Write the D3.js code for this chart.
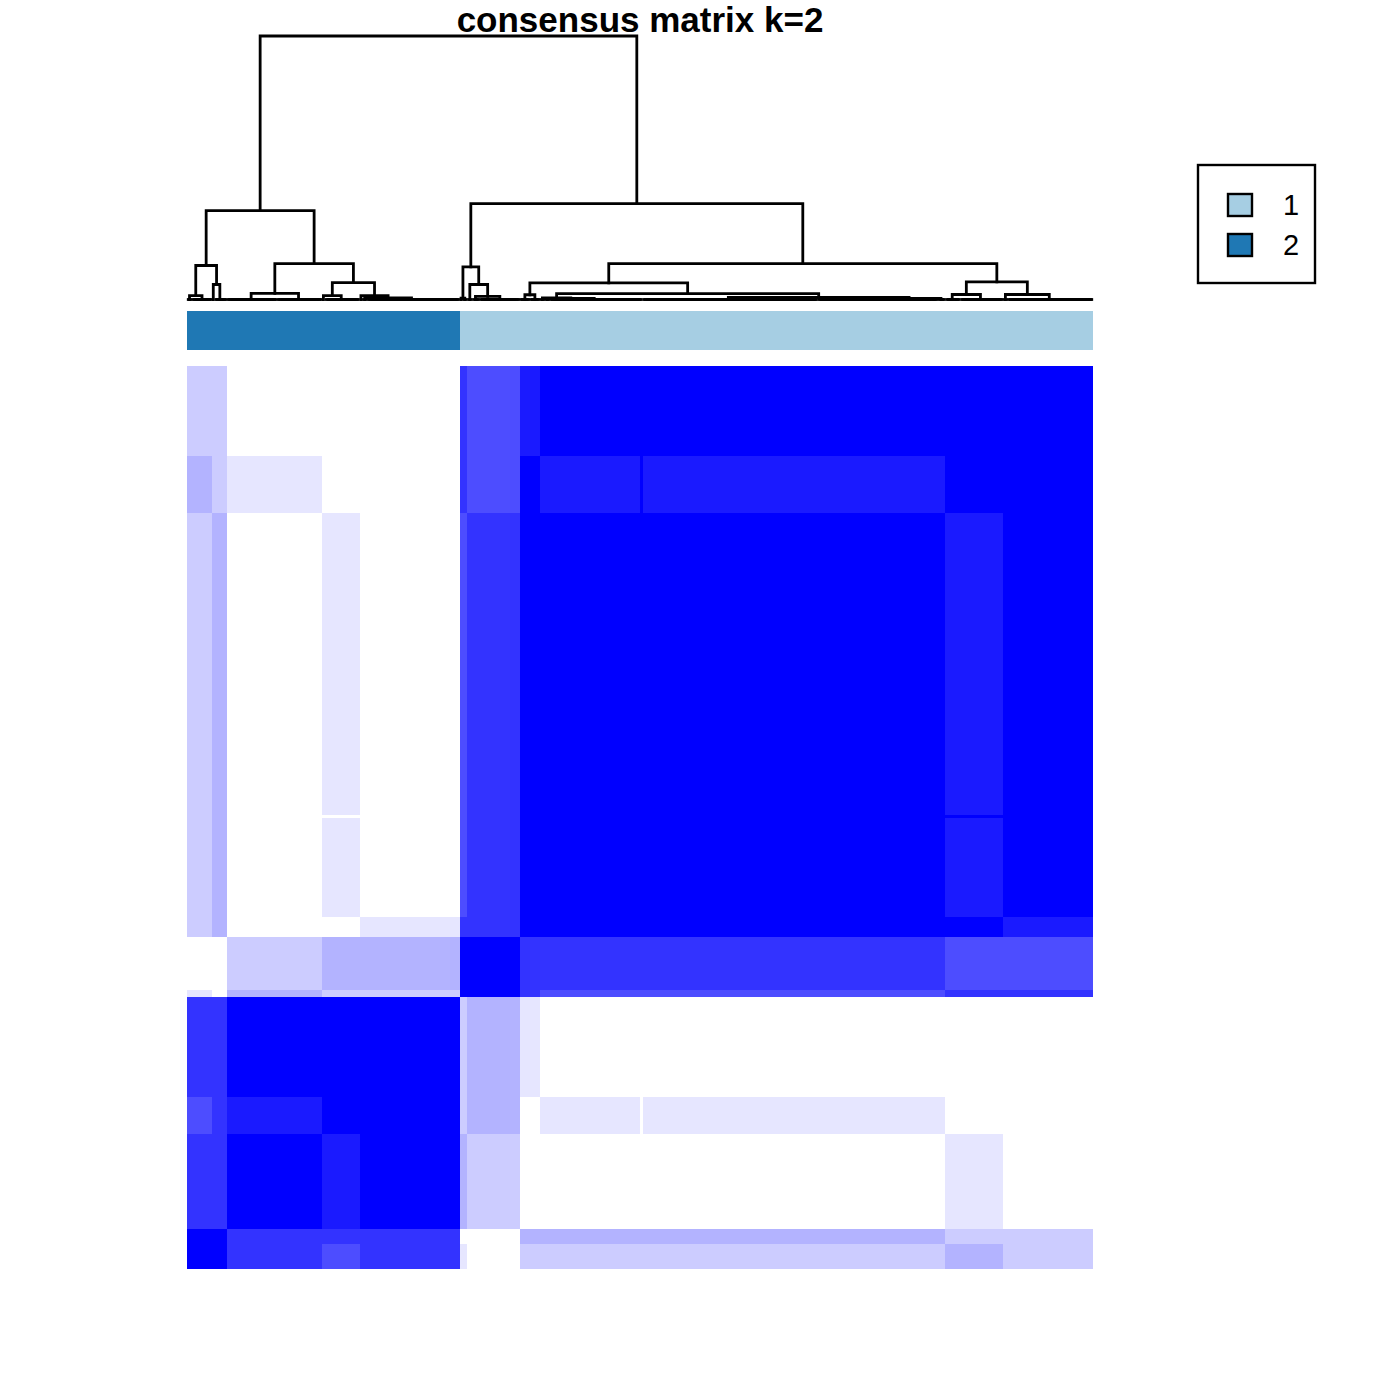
<!DOCTYPE html>
<html><head><meta charset="utf-8">
<script src="https://cdn.jsdelivr.net/npm/d3@7"></script>
<style>html,body{margin:0;padding:0;background:#fff;} svg{display:block;}</style>
</head><body>
<svg id="chart" width="1400" height="1400"></svg>
<script>
// ---------------- data ----------------
const title = "consensus matrix k=2";
// sample groups in dendrogram (column) order
const groupNames    = ["A","B","C","D","E","F","G","H","I","S","J","K","L"];
const groupSizes    = [10, 6, 38, 15, 40, 3, 21, 8, 40, 1, 121, 23, 36];
const groupCluster  = [2, 2, 2, 2, 2, 1, 1, 1, 1, 1, 1, 1, 1];
// consensus values between groups (symmetric)
const consA = [1.0,1.0,0.8,0.7,0.8,0.1,0.0,0.2,0.2,0.2,0.2,0.3,0.2];
const consB = [1.0,1.0,0.8,0.8,0.8,0.0,0.0,0.3,0.3,0.3,0.3,0.2,0.2];
const consC = [0.8,0.8,1.0,0.9,1.0,0.3,0.2,0.0,0.0,0.0,0.0,0.1,0.0];
const consD = [0.7,0.8,0.9,1.0,1.0,0.2,0.3,0.0,0.1,0.0,0.1,0.0,0.0];
const consE = [0.8,0.8,1.0,1.0,1.0,0.2,0.3,0.1,0.0,0.0,0.0,0.0,0.0];
const consF = [0.1,0.0,0.3,0.2,0.2,1.0,1.0,0.8,0.7,0.7,0.7,0.8,0.8];
const consG = [0.0,0.0,0.2,0.3,0.3,1.0,1.0,0.8,0.8,0.8,0.8,0.7,0.7];
const consH = [0.2,0.3,0.0,0.0,0.1,0.8,0.8,1.0,1.0,1.0,1.0,1.0,0.9];
const consI = [0.2,0.3,0.0,0.1,0.0,0.7,0.8,1.0,1.0,1.0,1.0,0.9,1.0];
const consS = [0.2,0.3,0.0,0.0,0.0,0.7,0.8,1.0,1.0,1.0,1.0,1.0,1.0];
const consJ = [0.2,0.3,0.0,0.1,0.0,0.7,0.8,1.0,1.0,1.0,1.0,0.9,1.0];
const consK = [0.3,0.2,0.1,0.0,0.0,0.8,0.7,1.0,0.9,1.0,0.9,1.0,1.0];
const consL = [0.2,0.2,0.0,0.0,0.0,0.8,0.7,0.9,1.0,1.0,1.0,1.0,1.0];
const consensus = [consA,consB,consC,consD,consE,consF,consG,consH,consI,consS,consJ,consK,consL];

// dendrogram: [height, left, right]; a number = that many identical samples (merged at height 0)
const dendroTree = [1.0,
  [0.337,
    [0.129, [0.015, 2, 8], [0.057, 1, 5]],
    [0.136, [0.023, 20, 18], [0.064, [0.015, 1, 14], [0.015, 1, [0.006, 2, 37]]]]],
  [0.364,
    [0.124, [0.005, 1, 2], [0.057, 2, [0.012, 3, 16]]],
    [0.136,
      [0.063, [0.018, 4, 4], [0.022, [0.006, 2, [0.004, 2, 37]], [0.008, 70, [0.004, 48, 3]]]],
      [0.067, [0.019, 6, 17], [0.019, 2, 34]]]]];

const legendLabels = ["1", "2"];
const clusterColors = ["#A6CEE3", "#1F78B4"];

// ---------------- drawing ----------------
const svg = d3.select("#chart");
const N = d3.sum(groupSizes);
const starts = d3.cumsum([0].concat(groupSizes)).slice(0, groupSizes.length);

const x = d3.scaleLinear().domain([0, N]).range([187, 1093]);
const yRow = d3.scaleLinear().domain([0, N]).range([1269, 366]);
const yH = d3.scaleLinear().domain([0, 1]).range([299.5, 36]);
const color = d3.scaleLinear().domain([0, 1]).range(["#ffffff", "#0000ff"]);
const clusterColor = d3.scaleOrdinal().domain(legendLabels.map(Number)).range(clusterColors);

// heatmap blocks
const cells = [];
groupSizes.forEach((rs, r) => {
  groupSizes.forEach((cs, c) => {
    cells.push({r, c, v: consensus[r][c]});
  });
});
svg.append("g").attr("shape-rendering", "crispEdges")
  .selectAll("rect").data(cells).join("rect")
  .attr("x", d => x(starts[d.c]))
  .attr("width", d => x(starts[d.c] + groupSizes[d.c]) - x(starts[d.c]))
  .attr("y", d => yRow(starts[d.r] + groupSizes[d.r]))
  .attr("height", d => yRow(starts[d.r]) - yRow(starts[d.r] + groupSizes[d.r]))
  .attr("fill", d => color(d.v));

// class bar
svg.append("g").attr("shape-rendering", "crispEdges")
  .selectAll("rect").data(groupSizes).join("rect")
  .attr("x", (d, i) => x(starts[i]))
  .attr("width", (d, i) => x(starts[i] + d) - x(starts[i]))
  .attr("y", 311).attr("height", 39)
  .attr("fill", (d, i) => clusterColor(groupCluster[i]));

// dendrogram
function flat(n) {
  if (n === 1) return {h: 0};
  const a = Math.floor(n / 2);
  return {h: 0, children: [flat(a), flat(n - a)]};
}
function build(spec) {
  if (typeof spec === "number") return flat(spec);
  return {h: spec[0], children: [build(spec[1]), build(spec[2])]};
}
const root = d3.hierarchy(build(dendroTree));
root.leaves().forEach((l, i) => { l.px = x(i + 0.5); });
root.eachAfter(n => { if (n.children) n.px = (n.children[0].px + n.children[1].px) / 2; });
const segs = [];
root.each(n => { if (n.children) segs.push(n); });
svg.append("g")
  .selectAll("path").data(segs).join("path")
  .attr("d", n => {
    const [a, b] = n.children;
    return `M${a.px},${yH(a.data.h)}V${yH(n.data.h)}H${b.px}V${yH(b.data.h)}`;
  })
  .attr("fill", "none").attr("stroke", "#000").attr("stroke-width", 2.8)
  .attr("stroke-linejoin", "miter").attr("stroke-linecap", "square");

// title
svg.append("text")
  .attr("x", 640).attr("y", 32)
  .attr("text-anchor", "middle")
  .attr("font-family", "Liberation Sans, Arial, sans-serif")
  .attr("font-weight", "bold").attr("font-size", 35)
  .text(title);

// legend
const lg = svg.append("g");
lg.append("rect").attr("x", 1198).attr("y", 165).attr("width", 117).attr("height", 118)
  .attr("fill", "#fff").attr("stroke", "#000").attr("stroke-width", 2.4);
const items = lg.selectAll("g.item").data(legendLabels).join("g").attr("class", "item")
  .attr("transform", (d, i) => `translate(0,${205 + i * 40})`);
items.append("rect").attr("x", 1228).attr("y", -11).attr("width", 24).attr("height", 22)
  .attr("fill", (d, i) => clusterColors[i]).attr("stroke", "#000").attr("stroke-width", 2.4);
items.append("text").attr("x", 1291).attr("y", 10).attr("text-anchor", "middle")
  .attr("font-family", "Liberation Sans, Arial, sans-serif").attr("font-size", 29)
  .text(d => d);
</script>
</body></html>
